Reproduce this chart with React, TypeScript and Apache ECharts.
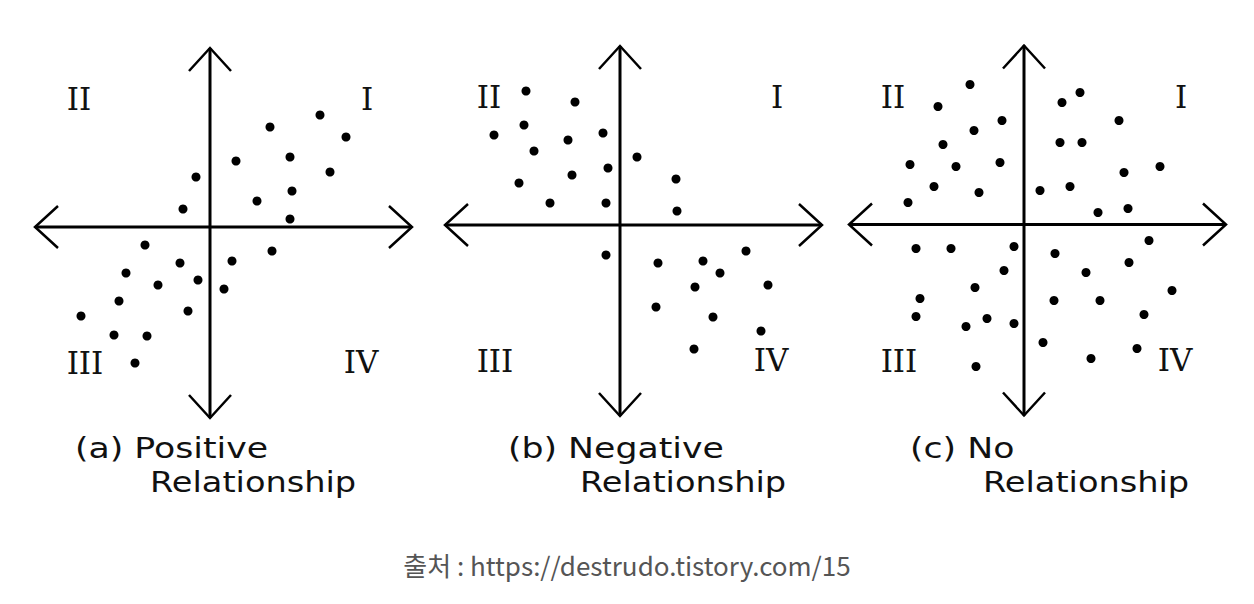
import React, { useEffect, useRef } from 'react';
import * as echarts from 'echarts';

// ---- data (units: axis units, origin at the crossing of the arrows) ----
const positivePoints: [number, number][] = [
  [11.0, 11.2], [6.0, 10.0], [13.6, 9.0], [8.0, 7.0], [2.6, 6.6], [12.0, 5.5], [-1.4, 5.0],
  [8.2, 3.6], [4.7, 2.6], [-2.7, 1.8], [8.0, 0.8], [-6.5, -1.8], [6.2, -2.4], [2.2, -3.4],
  [-3.0, -3.6], [-8.4, -4.6], [-1.2, -5.3], [-5.2, -5.8], [1.4, -6.2], [-9.1, -7.4],
  [-2.2, -8.4], [-12.9, -8.9], [-9.6, -10.8], [-6.3, -10.9], [-7.5, -13.6],
];
const negativePoints: [number, number][] = [
  [-9.4, 13.4], [-4.5, 12.3], [-9.6, 10.0], [-12.6, 9.0], [-1.7, 9.2], [-5.2, 8.5], [-8.6, 7.4],
  [1.7, 6.8], [-1.2, 5.7], [-4.8, 5.0], [5.6, 4.6], [-10.1, 4.2], [-7.0, 2.2], [-1.4, 2.2],
  [5.7, 1.4], [-1.4, -3.0], [12.6, -2.6], [3.8, -3.8], [8.3, -3.6], [10.0, -4.8], [14.8, -6.0],
  [7.5, -6.2], [3.6, -8.2], [9.3, -9.2], [14.1, -10.6], [7.4, -12.4],
];
const noRelationPoints: [number, number][] = [
  [-5.4, 14.0], [5.6, 13.2], [3.8, 12.2], [-8.6, 11.8], [-2.2, 10.4], [9.5, 10.4], [-5.0, 9.4],
  [3.6, 8.2], [5.8, 8.2], [-8.1, 8.0], [-11.4, 6.0], [-6.8, 5.8], [-2.4, 6.2], [13.6, 5.8],
  [10.0, 5.2], [-9.0, 3.8], [4.6, 3.8], [1.6, 3.4], [-4.5, 3.2], [-11.6, 2.2], [10.4, 1.6],
  [7.4, 1.2], [12.5, -1.6], [-10.8, -2.4], [-7.3, -2.4], [-1.0, -2.2], [3.1, -2.9], [10.5, -3.8],
  [-2.0, -4.6], [6.2, -4.8], [-4.9, -6.3], [14.8, -6.6], [-10.4, -7.4], [3.0, -7.6], [7.6, -7.6],
  [-10.8, -9.2], [12.0, -9.0], [-3.7, -9.4], [-5.8, -10.2], [-1.0, -9.9], [1.9, -11.8],
  [11.3, -12.4], [6.7, -13.4], [-4.8, -14.2],
];
const quadrantNames = ['I', 'II', 'III', 'IV'];
const captionLine1 = ['(a) Positive', '(b) Negative', '(c) No'];
const captionLine2 = ['Relationship', 'Relationship', 'Relationship'];
const sourceText = '출처 : https://destrudo.tistory.com/15';

// ---- layout ----
const X_MIN = -17.5, X_MAX = 20.2, Y_MIN = -19.1, Y_MAX = 17.9;
const quadrantPos: Record<string, [number, number]> = {
  I: [15.7, 12.8], II: [-13.1, 12.8], III: [-12.5, -13.6], IV: [15.1, -13.5],
};
const grids = [
  { left: 35, top: 48, width: 377, height: 370 },
  { left: 445, top: 46, width: 377, height: 370 },
  { left: 849, top: 45.5, width: 377, height: 370 },
];
const captionX = [
  [75, 150],
  [508, 580],
  [910, 983],
];

const axisRenderItem = (_params: any, api: any) => {
  const l = api.coord([X_MIN, 0]);
  const r = api.coord([X_MAX, 0]);
  const t = api.coord([0, Y_MAX]);
  const b = api.coord([0, Y_MIN]);
  const main = { stroke: '#000', lineWidth: 3, fill: null };
  const arm = { stroke: '#000', lineWidth: 2.5, fill: null };
  const A = 23, W = 21;
  return {
    type: 'group',
    children: [
      { type: 'line', shape: { x1: l[0], y1: l[1], x2: r[0], y2: r[1] }, style: main },
      { type: 'line', shape: { x1: t[0], y1: t[1], x2: b[0], y2: b[1] }, style: main },
      { type: 'polyline', shape: { points: [[r[0] - A, r[1] - W], [r[0], r[1]], [r[0] - A, r[1] + W]] }, style: arm },
      { type: 'polyline', shape: { points: [[l[0] + A, l[1] - W], [l[0], l[1]], [l[0] + A, l[1] + W]] }, style: arm },
      { type: 'polyline', shape: { points: [[t[0] - W, t[1] + A], [t[0], t[1]], [t[0] + W, t[1] + A]] }, style: arm },
      { type: 'polyline', shape: { points: [[b[0] - W, b[1] - A], [b[0], b[1]], [b[0] + W, b[1] - A]] }, style: arm },
    ],
  };
};

export default function App() {
  const ref = useRef<HTMLDivElement>(null);
  useEffect(() => {
    if (!ref.current) return;
    const chart = echarts.init(ref.current, undefined, { renderer: 'svg' });
    const panels = [positivePoints, negativePoints, noRelationPoints];
    const series: any[] = [];
    panels.forEach((pts, i) => {
      series.push({
        type: 'custom',
        xAxisIndex: i,
        yAxisIndex: i,
        clip: false,
        silent: true,
        renderItem: axisRenderItem,
        data: [[0, 0]],
        z: 1,
      });
      series.push({
        type: 'scatter',
        xAxisIndex: i,
        yAxisIndex: i,
        symbol: 'circle',
        symbolSize: 9,
        itemStyle: { color: '#000', opacity: 1 },
        data: pts,
        z: 2,
      });
      series.push({
        type: 'scatter',
        xAxisIndex: i,
        yAxisIndex: i,
        symbolSize: 1,
        silent: true,
        itemStyle: { color: 'rgba(0,0,0,0)', opacity: 0 },
        data: quadrantNames.map((n) => ({ name: n, value: quadrantPos[n] })),
        label: {
          show: true,
          position: 'inside',
          formatter: '{b}',
          fontFamily: '"DejaVu Serif"',
          fontSize: 31,
          color: '#111',
          opacity: 1,
          textBorderWidth: 0,
        },
        z: 3,
      });
    });
    const graphic: any[] = [];
    captionLine1.forEach((txt, i) => {
      graphic.push({
        type: 'text',
        x: captionX[i][0],
        y: 448,
        scaleX: 1.24,
        style: { text: txt, font: '28px "DejaVu Sans"', fill: '#111', textAlign: 'left', textVerticalAlign: 'middle', verticalAlign: 'middle' },
      });
      graphic.push({
        type: 'text',
        x: captionX[i][1],
        y: 482,
        scaleX: 1.2,
        style: { text: captionLine2[i], font: '28px "DejaVu Sans"', fill: '#111', textAlign: 'left', textVerticalAlign: 'middle', verticalAlign: 'middle' },
      });
    });
    graphic.push({
      type: 'text',
      x: 627,
      y: 564,
      style: { text: sourceText, font: '26px "Noto Sans CJK KR"', fill: '#555', textAlign: 'center', textVerticalAlign: 'middle', verticalAlign: 'middle' },
    });
    chart.setOption({
      animation: false,
      backgroundColor: '#fff',
      grid: grids.map((g) => ({ ...g, containLabel: false })),
      xAxis: grids.map((_, i) => ({ type: 'value', gridIndex: i, min: X_MIN, max: X_MAX, show: false })),
      yAxis: grids.map((_, i) => ({ type: 'value', gridIndex: i, min: Y_MIN, max: Y_MAX, show: false })),
      series,
      graphic,
    });
    return () => chart.dispose();
  }, []);
  return <div ref={ref} style={{ position: 'fixed', left: 0, top: 0, width: 1254, height: 604 }} />;
}
